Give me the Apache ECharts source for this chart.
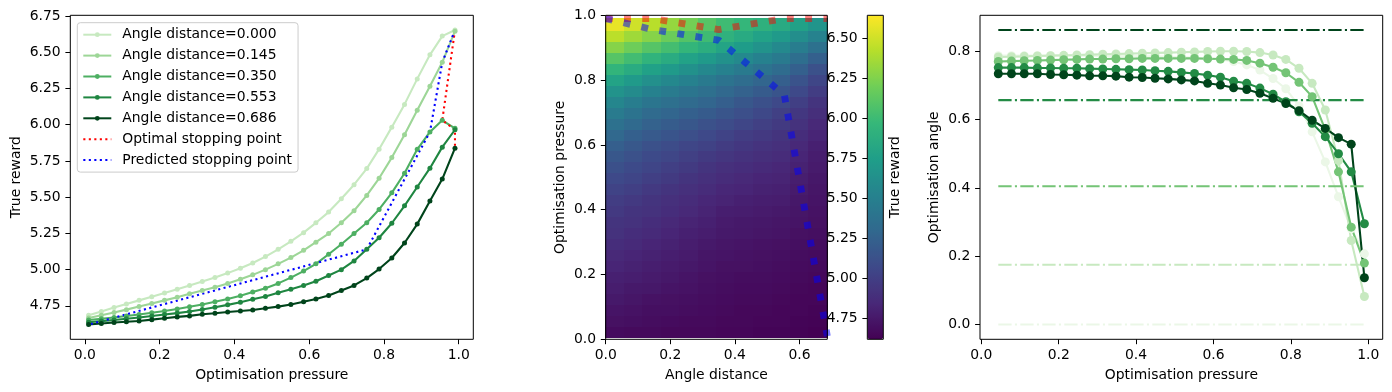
<!DOCTYPE html>
<html>
<head>
<meta charset="utf-8">
<script src="https://cdn.jsdelivr.net/npm/echarts@6/dist/echarts.min.js"></script>
<style>
html, body { margin: 0; padding: 0; background: #fff; }
#main { width: 1392px; height: 392px; }
</style>
</head>
<body>
<div id="main"></div>
<script>
// pressure grid shared by all panels
var pressure = [0.01, 0.044, 0.078, 0.111, 0.145, 0.179, 0.213, 0.247, 0.28, 0.314,
  0.348, 0.382, 0.416, 0.449, 0.483, 0.517, 0.551, 0.585, 0.618, 0.652,
  0.686, 0.72, 0.754, 0.787, 0.821, 0.855, 0.889, 0.923, 0.956, 0.99];

var angleDistances = [0.000, 0.145, 0.350, 0.553, 0.686];

// true reward vs pressure, one list per angle distance
var reward000 = [4.685, 4.712, 4.738, 4.763, 4.788, 4.813, 4.839, 4.865, 4.891, 4.918, 4.946, 4.976, 5.009, 5.046, 5.09, 5.14, 5.195, 5.255, 5.323, 5.397, 5.489, 5.586, 5.697, 5.831, 5.983, 6.14, 6.316, 6.482, 6.611, 6.653];
var reward145 = [4.667, 4.685, 4.704, 4.724, 4.745, 4.766, 4.788, 4.81, 4.833, 4.856, 4.879, 4.905, 4.933, 4.964, 5.0, 5.04, 5.083, 5.133, 5.189, 5.249, 5.323, 5.406, 5.512, 5.63, 5.773, 5.93, 6.099, 6.265, 6.43, 6.645];
var reward350 = [4.652, 4.661, 4.67, 4.68, 4.69, 4.702, 4.715, 4.729, 4.744, 4.76, 4.778, 4.798, 4.82, 4.845, 4.872, 4.905, 4.945, 4.99, 5.04, 5.106, 5.175, 5.249, 5.323, 5.415, 5.53, 5.665, 5.83, 5.95, 6.03, 5.975];
var reward553 = [4.637, 4.645, 4.653, 4.661, 4.67, 4.68, 4.69, 4.70, 4.711, 4.725, 4.74, 4.757, 4.775, 4.795, 4.815, 4.84, 4.865, 4.89, 4.92, 4.96, 5.0, 5.06, 5.14, 5.22, 5.32, 5.44, 5.57, 5.70, 5.845, 5.965];
var reward686 = [4.621, 4.628, 4.635, 4.641, 4.646, 4.655, 4.665, 4.674, 4.681, 4.692, 4.699, 4.708, 4.715, 4.722, 4.734, 4.745, 4.759, 4.778, 4.798, 4.822, 4.856, 4.891, 4.942, 5.004, 5.08, 5.184, 5.314, 5.473, 5.625, 5.838];

// stopping points: index into pressure for each angle distance
var optimalIdx = [29, 29, 28, 29, 29];
var predictedIdx = [29, 28, 27, 22, 0];

// heatmap: column edges in angle distance, rows between consecutive pressures
var heatDistEdges = [0, 0.057, 0.114, 0.172, 0.229, 0.286, 0.343, 0.4, 0.457, 0.515, 0.572, 0.629, 0.686];
var heatReward = [
  [4.68, 4.67, 4.67, 4.66, 4.66, 4.66, 4.65, 4.65, 4.64, 4.64, 4.63, 4.62],
  [4.71, 4.70, 4.69, 4.68, 4.67, 4.67, 4.66, 4.66, 4.65, 4.65, 4.64, 4.63],
  [4.73, 4.72, 4.70, 4.70, 4.69, 4.68, 4.67, 4.66, 4.66, 4.65, 4.65, 4.64],
  [4.76, 4.74, 4.72, 4.71, 4.70, 4.69, 4.68, 4.67, 4.67, 4.66, 4.65, 4.65],
  [4.78, 4.76, 4.75, 4.73, 4.72, 4.70, 4.69, 4.68, 4.68, 4.67, 4.66, 4.65],
  [4.80, 4.79, 4.77, 4.75, 4.73, 4.71, 4.70, 4.69, 4.69, 4.68, 4.67, 4.66],
  [4.83, 4.81, 4.79, 4.77, 4.75, 4.73, 4.71, 4.71, 4.70, 4.69, 4.68, 4.67],
  [4.85, 4.83, 4.81, 4.79, 4.77, 4.74, 4.73, 4.72, 4.71, 4.70, 4.69, 4.68],
  [4.88, 4.86, 4.83, 4.81, 4.78, 4.76, 4.74, 4.73, 4.72, 4.71, 4.70, 4.69],
  [4.91, 4.88, 4.86, 4.83, 4.80, 4.78, 4.76, 4.75, 4.74, 4.73, 4.71, 4.70],
  [4.93, 4.91, 4.88, 4.85, 4.82, 4.80, 4.77, 4.76, 4.75, 4.74, 4.73, 4.71],
  [4.96, 4.93, 4.91, 4.88, 4.85, 4.82, 4.79, 4.78, 4.77, 4.76, 4.74, 4.72],
  [4.99, 4.96, 4.93, 4.90, 4.87, 4.84, 4.82, 4.80, 4.79, 4.78, 4.75, 4.73],
  [5.03, 5.00, 4.96, 4.93, 4.90, 4.87, 4.84, 4.83, 4.81, 4.80, 4.77, 4.74],
  [5.07, 5.04, 5.00, 4.97, 4.93, 4.90, 4.87, 4.85, 4.83, 4.82, 4.79, 4.75],
  [5.12, 5.08, 5.04, 5.00, 4.97, 4.93, 4.90, 4.88, 4.86, 4.84, 4.81, 4.77],
  [5.17, 5.13, 5.08, 5.05, 5.01, 4.97, 4.94, 4.91, 4.89, 4.87, 4.83, 4.78],
  [5.23, 5.18, 5.13, 5.09, 5.05, 5.02, 4.98, 4.95, 4.92, 4.90, 4.85, 4.80],
  [5.30, 5.24, 5.19, 5.15, 5.11, 5.07, 5.03, 4.99, 4.96, 4.93, 4.88, 4.83],
  [5.37, 5.31, 5.25, 5.21, 5.17, 5.13, 5.09, 5.05, 5.01, 4.97, 4.91, 4.85],
  [5.46, 5.39, 5.32, 5.28, 5.24, 5.20, 5.16, 5.11, 5.06, 5.01, 4.95, 4.89],
  [5.55, 5.48, 5.41, 5.36, 5.32, 5.28, 5.23, 5.17, 5.12, 5.07, 5.00, 4.93],
  [5.66, 5.59, 5.51, 5.46, 5.41, 5.36, 5.30, 5.25, 5.20, 5.15, 5.07, 4.99],
  [5.79, 5.71, 5.63, 5.57, 5.51, 5.45, 5.39, 5.34, 5.28, 5.23, 5.14, 5.05],
  [5.94, 5.86, 5.77, 5.71, 5.64, 5.57, 5.51, 5.45, 5.39, 5.33, 5.24, 5.13],
  [6.10, 6.02, 5.93, 5.86, 5.78, 5.71, 5.64, 5.58, 5.51, 5.45, 5.35, 5.24],
  [6.27, 6.19, 6.10, 6.03, 5.95, 5.88, 5.80, 5.73, 5.66, 5.58, 5.48, 5.37],
  [6.44, 6.35, 6.27, 6.18, 6.09, 6.01, 5.92, 5.85, 5.78, 5.71, 5.62, 5.52],
  [6.58, 6.50, 6.43, 6.32, 6.21, 6.10, 6.01, 5.96, 5.91, 5.85, 5.77, 5.67]
];
var rewardMin = 4.62, rewardMax = 6.645;
var colorbarTicks = [4.75, 5.0, 5.25, 5.5, 5.75, 6.0, 6.25, 6.5];

// optimisation angle vs pressure (pressure[1..29])
var angleFaint = [0.787, 0.787, 0.787, 0.787, 0.787, 0.787, 0.787, 0.787, 0.786, 0.786, 0.786, 0.785, 0.785, 0.784, 0.783, 0.781, 0.779, 0.776, 0.770, 0.760, 0.745, 0.720, 0.690, 0.640, 0.564, 0.476, 0.374, 0.280, 0.207];
var angleLight = [0.783, 0.784, 0.785, 0.786, 0.787, 0.788, 0.789, 0.790, 0.791, 0.792, 0.793, 0.794, 0.795, 0.796, 0.797, 0.798, 0.799, 0.800, 0.800, 0.799, 0.796, 0.789, 0.776, 0.750, 0.706, 0.628, 0.480, 0.246, 0.082];
var angleMedium = [0.770, 0.771, 0.772, 0.773, 0.774, 0.775, 0.776, 0.777, 0.777, 0.778, 0.778, 0.779, 0.779, 0.779, 0.779, 0.779, 0.778, 0.777, 0.776, 0.773, 0.765, 0.753, 0.737, 0.709, 0.667, 0.570, 0.447, 0.285, 0.180];
var angleDark = [0.752, 0.752, 0.752, 0.751, 0.751, 0.750, 0.750, 0.749, 0.748, 0.747, 0.746, 0.745, 0.743, 0.741, 0.738, 0.735, 0.730, 0.724, 0.712, 0.706, 0.692, 0.674, 0.652, 0.623, 0.589, 0.550, 0.500, 0.447, 0.295];
var angleDarkest = [0.734, 0.734, 0.734, 0.734, 0.732, 0.731, 0.730, 0.728, 0.728, 0.727, 0.724, 0.723, 0.721, 0.719, 0.716, 0.713, 0.706, 0.701, 0.693, 0.688, 0.677, 0.662, 0.647, 0.626, 0.598, 0.574, 0.547, 0.528, 0.137];
var hlineAngles = [0.0, 0.175, 0.405, 0.657, 0.862];

var rewardCurves = [reward000, reward145, reward350, reward553, reward686];
var rewardColors = ['#c7e9c0', '#9dd697', '#4daf62', '#1f8641', '#00441b'];
var angleCurves = [angleFaint, angleLight, angleMedium, angleDark, angleDarkest];
var greens5 = ['#ebf7e7', '#c7e9c0', '#74c476', '#238b45', '#00441b'];
var viridis = ['#440154', '#482878', '#3e4989', '#31688e', '#26828e', '#1f9e89', '#35b779', '#6ece58', '#b5de2b', '#fde725'];

var FONT = 'DejaVu Sans';
var FS = 13.9;

// matplotlib-like 5% margins
function padMin(v) { return v.min - 0.05 * (v.max - v.min); }
function padMax(v) { return v.max + 0.05 * (v.max - v.min); }
function padList(list) {
  var lo = Math.min.apply(null, list), hi = Math.max.apply(null, list);
  return [lo - 0.05 * (hi - lo), hi + 0.05 * (hi - lo)];
}

function baseAxis(grid, ticks, fmt, extra, labelMargin) {
  var ax = {
    type: 'value', gridIndex: grid, splitLine: { show: false },
    axisLine: { show: false, onZero: false },
    axisTick: { show: true, inside: false, length: 4.9, lineStyle: { color: '#000', width: 1 }, customValues: ticks },
    axisLabel: { color: '#000', fontSize: FS, fontFamily: FONT, margin: labelMargin || 9.7, customValues: ticks, formatter: fmt },
    nameTextStyle: { color: '#000', fontSize: FS, fontFamily: FONT },
    nameLocation: 'middle'
  };
  for (var k in extra) ax[k] = extra[k];
  return ax;
}
function fmt1(v) { return v.toFixed(1); }
function fmt2(v) { return v.toFixed(2); }

var series = [];
var legendData = [];

// panel 1
rewardCurves.forEach(function (curve, j) {
  var name = 'Angle distance=' + angleDistances[j].toFixed(3);
  legendData.push({ name: name });
  series.push({
    name: name, type: 'line', xAxisIndex: 0, yAxisIndex: 0, silent: true,
    data: pressure.map(function (p, i) { return [p, curve[i]]; }),
    symbol: 'circle', symbolSize: 5, showAllSymbol: true,
    lineStyle: { width: 2.1, color: rewardColors[j] },
    itemStyle: { color: rewardColors[j] }
  });
});
series.push({
  name: 'Optimal stopping point', type: 'line', xAxisIndex: 0, yAxisIndex: 0, silent: true,
  data: optimalIdx.map(function (k, j) { return [pressure[k], rewardCurves[j][k]]; }),
  symbol: 'none', lineStyle: { width: 2.1, color: '#ff0000', type: [2.1, 3.4] }, itemStyle: { color: '#ff0000' }
});
series.push({
  name: 'Predicted stopping point', type: 'line', xAxisIndex: 0, yAxisIndex: 0, silent: true,
  data: predictedIdx.map(function (k, j) { return [pressure[k], rewardCurves[j][k]]; }),
  symbol: 'none', lineStyle: { width: 2.1, color: '#0000ff', type: [2.1, 3.4] }, itemStyle: { color: '#0000ff' }
});
legendData.push({ name: 'Optimal stopping point', itemStyle: { opacity: 0 } });
legendData.push({ name: 'Predicted stopping point', itemStyle: { opacity: 0 } });

// panel 2 heatmap
var heatCells = [];
heatReward.forEach(function (row, i) {
  row.forEach(function (v, c) {
    heatCells.push([heatDistEdges[c], heatDistEdges[c + 1], pressure[i], pressure[i + 1], v]);
  });
});
var heatIndex = series.length;
series.push({
  type: 'custom', xAxisIndex: 1, yAxisIndex: 1, silent: true, clip: true,
  data: heatCells,
  encode: { x: [0, 1], y: [2, 3] },
  renderItem: function (params, api) {
    var a = api.coord([api.value(0), api.value(3)]);
    var b = api.coord([api.value(1), api.value(2)]);
    var x0 = Math.floor(a[0]), y0 = Math.floor(a[1]);
    return {
      type: 'rect',
      shape: { x: x0, y: y0, width: Math.ceil(b[0]) - x0 + 1, height: Math.ceil(b[1]) - y0 + 1 },
      style: { fill: api.visual('color'), stroke: null }
    };
  }
});
series.push({
  type: 'line', xAxisIndex: 1, yAxisIndex: 1, silent: true, z: 5,
  data: optimalIdx.map(function (k, j) { return [angleDistances[j], pressure[k]]; }),
  symbol: 'none', lineStyle: { width: 6.9, color: '#ff0000', opacity: 0.5, type: [6.9, 11.4] }
});
series.push({
  type: 'line', xAxisIndex: 1, yAxisIndex: 1, silent: true, z: 6,
  data: predictedIdx.map(function (k, j) { return [angleDistances[j], pressure[k]]; }),
  symbol: 'none', lineStyle: { width: 6.9, color: '#0000ff', opacity: 0.5, type: [6.9, 11.4] }
});

// panel 3
var p3 = pressure.slice(1);
angleCurves.forEach(function (curve, j) {
  series.push({
    type: 'line', xAxisIndex: 3, yAxisIndex: 4, silent: true,
    data: p3.map(function (p, i) { return [p, curve[i]]; }),
    symbol: 'circle', symbolSize: 9, showAllSymbol: true,
    lineStyle: { width: 2.1, color: greens5[j] }, itemStyle: { color: greens5[j] }
  });
});
hlineAngles.forEach(function (v, j) {
  series.push({
    type: 'line', xAxisIndex: 3, yAxisIndex: 4, silent: true, z: 3,
    data: [[p3[0], v], [p3[p3.length - 1], v]],
    symbol: 'none', lineStyle: { width: 2.1, color: greens5[j], type: [13.3, 3.3, 2.1, 3.3] }
  });
});

var rewardRange = padList([].concat.apply([], rewardCurves));
var angleRange = padList([].concat.apply(hlineAngles, angleCurves));
var xTicks = [0, 0.2, 0.4, 0.6, 0.8, 1.0];

function gridBox(left, width) {
  return { left: left, top: 15.3, width: width, height: 324, show: true, borderColor: '#000', borderWidth: 1, backgroundColor: 'transparent', z: 10 };
}

var option = {
  animation: false,
  backgroundColor: '#fff',
  textStyle: { fontFamily: FONT },
  grid: [gridBox(70.3, 403), gridBox(605.7, 221.6), gridBox(867.3, 16), gridBox(980, 402.7)],
  xAxis: [
    baseAxis(0, xTicks, fmt1, { min: padMin, max: padMax, name: 'Optimisation pressure', nameGap: 29 }, 9.2),
    baseAxis(1, [0, 0.2, 0.4, 0.6], fmt1, { min: 0, max: 0.686, name: 'Angle distance', nameGap: 29, z: 11 }, 9.2),
    { type: 'value', gridIndex: 2, min: 0, max: 1, show: false },
    baseAxis(3, xTicks, fmt1, { min: padMin, max: padMax, name: 'Optimisation pressure', nameGap: 29 }, 9.2)
  ],
  yAxis: [
    baseAxis(0, [4.75, 5.0, 5.25, 5.5, 5.75, 6.0, 6.25, 6.5, 6.75], fmt2, { min: rewardRange[0], max: rewardRange[1], name: 'True reward', nameGap: 47 }),
    baseAxis(1, xTicks, fmt1, { min: 0, max: 1, name: 'Optimisation pressure', nameGap: 38.5, z: 11 }),
    baseAxis(2, colorbarTicks, fmt2, { min: rewardMin, max: rewardMax, position: 'left', z: 11 }),
    { type: 'value', gridIndex: 2, min: rewardMin, max: rewardMax, position: 'right', axisLine: { show: false, onZero: false }, axisTick: { show: false }, axisLabel: { show: false }, splitLine: { show: false },
      name: 'True reward', nameLocation: 'middle', nameRotate: 90, nameGap: 5, nameTextStyle: { color: '#000', fontSize: FS, fontFamily: FONT } },
    baseAxis(3, [0, 0.2, 0.4, 0.6, 0.8], fmt1, { min: angleRange[0], max: angleRange[1], name: 'Optimisation angle', nameGap: 38.5 })
  ],
  visualMap: {
    type: 'continuous', seriesIndex: heatIndex, dimension: 4,
    min: rewardMin, max: rewardMax, calculable: false, hoverLink: false, realtime: false,
    inRange: { color: viridis },
    left: 867.3, top: 15.3, itemWidth: 16, itemHeight: 324, padding: 0, text: null, showLabel: false, z: 5
  },
  legend: {
    orient: 'vertical', left: 77.3, top: 22.7,
    padding: [5, 6, 5, 5], itemGap: 6.9, itemWidth: 28, itemHeight: 6,
    backgroundColor: 'rgba(255,255,255,0.8)', borderColor: '#cccccc', borderWidth: 1, borderRadius: 3,
    textStyle: { color: '#000', fontSize: FS, fontFamily: FONT, lineHeight: 14, padding: [0, 0, 0, 6] },
    selectedMode: false,
    data: legendData
  },
  series: series
};

var myChart = echarts.init(document.getElementById('main'));
myChart.setOption(option);
</script>
</body>
</html>
